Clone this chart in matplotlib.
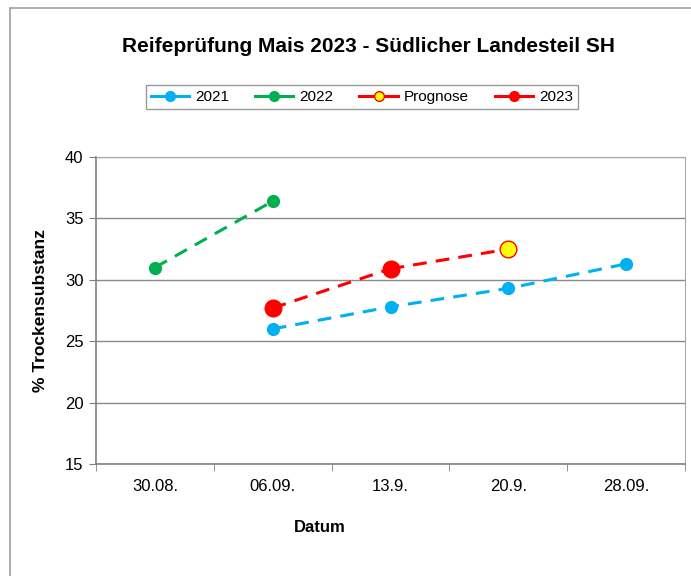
import numpy as np
import matplotlib.pyplot as plt
from matplotlib.patches import Rectangle

plt.rcParams['font.family'] = ['Liberation Sans', 'DejaVu Sans']

# categories (Datum)
dates = ["30.08.", "06.09.", "13.9.", "20.9.", "28.09."]
# % Trockensubstanz
ts_2021 = [np.nan, 26.0, 27.8, 29.3, 31.3]
ts_2022 = [31.0, 36.4, np.nan, np.nan, np.nan]
ts_2023 = [np.nan, 27.7, 30.9, np.nan, np.nan]
ts_prognose = [np.nan, np.nan, 30.9, 32.5, np.nan]

x = np.arange(len(dates))

fig = plt.figure(figsize=(6.91, 5.76), dpi=100)
ax = fig.add_axes([96 / 691, 1 - 464 / 576, (685 - 96) / 691, (464 - 157) / 576])

# outer chart frame
fig.patches.append(Rectangle((10 / 691, -0.1), 1.2, 1 - 8 / 576 + 0.1,
                             transform=fig.transFigure, fill=False,
                             ec='#a0a0a0', lw=1.2))

dash = (4.5, 3)
ax.plot(x, ts_2021, color='#00B0F0', lw=2.2, ls=(0, dash),
        marker='o', ms=8.5, zorder=3)
ax.plot(x, ts_2022, color='#00B050', lw=2.2, ls=(0, dash),
        marker='o', ms=8.5, zorder=3)
ax.plot(x, ts_prognose, color='#FF0000', lw=2.2, ls=(0, dash), zorder=3)
ax.plot(x[3], ts_prognose[3], ls='none', marker='o', ms=12,
        mfc='#FFFF00', mec='#FF0000', mew=1, zorder=4)
ax.plot(x, ts_2023, color='#FF0000', lw=2.2, ls=(0, dash),
        marker='o', ms=12, zorder=4)

# legend handles
h21, = ax.plot([], [], color='#00B0F0', lw=2.2, marker='o', ms=7)
h22, = ax.plot([], [], color='#00B050', lw=2.2, marker='o', ms=7)
hpr, = ax.plot([], [], color='#FF0000', lw=2.2, marker='o', ms=7,
               mfc='#FFFF00', mec='#FF0000')
h23, = ax.plot([], [], color='#FF0000', lw=2.2, marker='o', ms=7)

ax.set_xlim(-0.5, len(dates) - 0.5)
ax.set_ylim(15, 40)
ax.set_yticks([15, 20, 25, 30, 35, 40])
ax.set_xticks(x)
ax.set_xticklabels(dates)
ax.set_xticks(np.arange(-0.5, len(dates)), minor=True)
ax.tick_params(axis='x', which='major', length=0, labelsize=12, pad=11)
ax.tick_params(axis='x', which='minor', length=5, color='#808080')
ax.tick_params(axis='y', length=5, color='#808080', labelsize=12, pad=4)
ax.yaxis.grid(True, color='#8a8a8a', lw=1)
ax.set_axisbelow(True)
for s in ['top', 'right']:
    ax.spines[s].set_color('#a8a8a8')
for s in ['left', 'bottom']:
    ax.spines[s].set_color('#808080')
    ax.spines[s].set_linewidth(1.2)

ax.set_ylabel("% Trockensubstanz", fontsize=12.5, fontweight='bold', labelpad=12)
fig.text(320 / 691, 1 - 528 / 576, "Datum", fontsize=12, fontweight='bold',
         ha='center', va='center')
fig.text(368 / 691, 1 - 47 / 576, "Reifeprüfung Mais 2023 - Südlicher Landesteil SH",
         fontsize=15, fontweight='bold', ha='center', va='center')

leg = fig.legend([h21, h22, hpr, h23], ["2021", "2022", "Prognose", "2023"],
                 loc='center', bbox_to_anchor=(362 / 691, 1 - 97 / 576),
                 ncol=4, frameon=True, fancybox=False, fontsize=11,
                 handlelength=2.5, columnspacing=1.7, borderpad=0.35,
                 handletextpad=0.4)
leg.get_frame().set_edgecolor('#808080')
leg.get_frame().set_linewidth(1)

fig.savefig("out.png", dpi=100)
